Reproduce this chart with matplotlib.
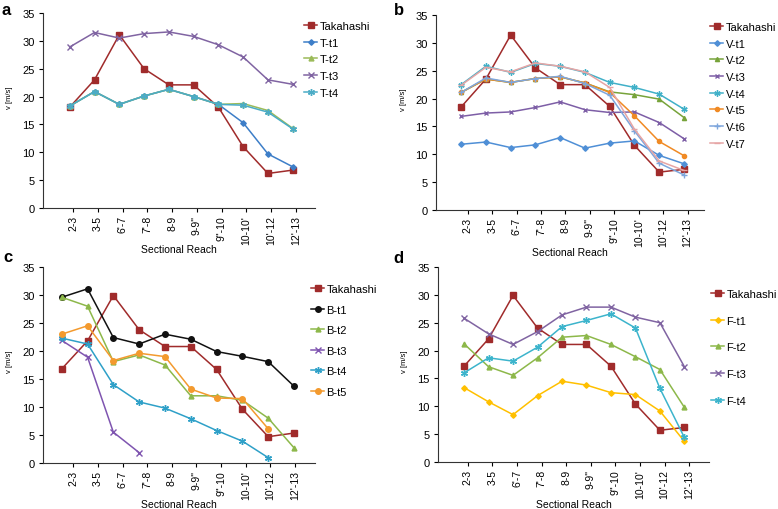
import numpy as np
import matplotlib.pyplot as plt

plt.rcParams['font.family'] = ['Liberation Sans', 'DejaVu Sans']

nan = np.nan
reaches = ['2-3', '3-5', "6'-7", "7'-8", '8-9', '9-9"', '9"-10', "10-10'", "10'-12", "12'-13"]

# panel a
tak_a = [18.1, 23.0, 31.1, 25.0, 22.1, 22.1, 18.1, 11.0, 6.2, 6.8]
t_t1 = [18.3, 20.9, 18.6, 20.1, 21.3, 20.0, 18.6, 15.3, 9.7, 7.4]
t_t2 = [18.3, 20.9, 18.6, 20.1, 21.3, 20.0, 18.6, 18.75, 17.5, 14.3]
t_t3 = [28.9, 31.5, 30.5, 31.3, 31.6, 30.8, 29.3, 27.1, 23.0, 22.2]
t_t4 = [18.3, 20.9, 18.6, 20.1, 21.3, 20.0, 18.6, 18.45, 17.2, 14.2]

# panel b
tak_b = [18.5, 23.5, 31.4, 25.5, 22.5, 22.5, 18.6, 11.6, 6.8, 7.3]
v_t1 = [11.8, 12.2, 11.2, 11.7, 13.0, 11.1, 12.0, 12.4, 9.8, 8.3]
v_t2 = [21.1, 23.5, 22.9, 23.6, 23.9, 22.8, 21.2, 20.7, 19.9, 16.6]
v_t3 = [16.8, 17.4, 17.6, 18.4, 19.4, 18.0, 17.5, 17.6, 15.7, 12.8]
v_t4 = [22.5, 25.8, 24.7, 26.3, 25.8, 24.7, 22.9, 22.0, 20.8, 18.1]
v_t5 = [21.1, 23.5, 22.9, 23.6, 23.9, 22.8, 21.1, 16.9, 12.3, 9.75]
v_t6 = [21.1, 23.7, 22.9, 23.6, 24.0, 22.7, 20.6, 14.2, 8.4, 6.3]
v_t7 = [22.4, 25.6, 24.8, 26.4, 25.8, 24.8, 22.0, 14.5, 8.8, 7.1]

# panel c
tak_c = [16.8, 21.8, 29.9, 23.8, 20.8, 20.8, 16.7, 9.6, 4.7, 5.35]
b_t1 = [29.6, 31.1, 22.4, 21.25, 23.0, 22.1, 19.9, 19.05, 18.1, 13.7]
b_t2 = [29.6, 28.0, 18.1, 19.3, 17.5, 12.0, 12.0, 11.2, 8.0, 2.7]
b_t3 = [21.9, 18.9, 5.5, 1.85, nan, nan, nan, nan, nan, nan]
b_t4 = [22.3, 21.25, 14.0, 10.9, 9.8, 7.9, 5.8, 3.9, 0.95, nan]
b_t5 = [23.0, 24.5, 18.3, 19.6, 19.0, 13.2, 11.6, 11.5, 6.1, nan]

# panel d
tak_d = [17.2, 22.1, 29.9, 24.05, 21.1, 21.1, 17.2, 10.4, 5.7, 6.2]
f_t1 = [13.35, 10.8, 8.5, 11.9, 14.5, 13.8, 12.45, 12.1, 9.15, 3.7]
f_t2 = [21.2, 17.1, 15.55, 18.7, 22.4, 22.7, 21.1, 18.9, 16.6, 9.8]
f_t3 = [25.8, 23.0, 21.1, 23.4, 26.4, 27.8, 27.8, 26.0, 25.0, 17.1]
f_t4 = [16.0, 18.7, 18.1, 20.6, 24.3, 25.4, 26.6, 24.05, 13.2, 4.4]

RED = '#a02b2b'
ast = (6, 2, 0)

W, H = 778, 510
fig = plt.figure(figsize=(W / 100, H / 100), dpi=100)


def px_axes(left, right, top, bottom):
    return fig.add_axes([left / W, 1 - bottom / H, (right - left) / W, (bottom - top) / H])


panels = [
    dict(box=(43, 315, 14, 209), xlim=(-1.22, 9.77), pts=(-0.14, 8.87), letter='a', lpos=(2, 15),
         ylab=(-0.11, 0.57), xlab_pad=0, leg=(304, 22), lsp=0.6,
         series=[('Takahashi', tak_a, RED, 's', 4.5),
                 ('T-t1', t_t1, '#3d7ec8', 'D', 2.8),
                 ('T-t2', t_t2, '#9bbb59', '^', 3.5),
                 ('T-t3', t_t3, '#8064a2', 'x', 4),
                 ('T-t4', t_t4, '#4bacc6', ast, 5)]),
    dict(box=(436, 704, 16, 211), xlim=(-1.30, 9.67), pts=(-0.27, 8.85), letter='b', lpos=(394, 15),
         ylab=(-0.11, 0.57), xlab_pad=0.5, leg=(710, 23), lsp=0.6,
         series=[('Takahashi', tak_b, RED, 's', 4.5),
                 ('V-t1', v_t1, '#4f8fd6', 'D', 2.8),
                 ('V-t2', v_t2, '#77a33a', '^', 3),
                 ('V-t3', v_t3, '#7d5ea6', 'x', 3.5),
                 ('V-t4', v_t4, '#40b0c8', ast, 4.5),
                 ('V-t5', v_t5, '#f08a24', 'o', 3),
                 ('V-t6', v_t6, '#7ea6dc', '+', 5),
                 ('V-t7', v_t7, '#e6a5a5', '_', 5)]),
    dict(box=(43, 315, 268, 464), xlim=(-1.23, 9.81), pts=(-0.47, 8.96), letter='c', lpos=(3, 262),
         ylab=(-0.11, 0.52), xlab_pad=0.3, leg=(311, 285), lsp=0.95,
         series=[('Takahashi', tak_c, RED, 's', 4.5),
                 ('B-t1', b_t1, '#111111', 'o', 4),
                 ('B-t2', b_t2, '#8db84a', '^', 3.5),
                 ('B-t3', b_t3, '#7f55b0', 'x', 4),
                 ('B-t4', b_t4, '#2ea0c8', ast, 5),
                 ('B-t5', b_t5, '#f39a2e', 'o', 4)]),
    dict(box=(438, 709, 268, 463), xlim=(-1.21, 9.80), pts=(-0.15, 8.80), letter='d', lpos=(393, 263),
         ylab=(-0.11, 0.52), xlab_pad=0.5, leg=(711, 290), lsp=1.5,
         series=[('Takahashi', tak_d, RED, 's', 4.5),
                 ('F-t1', f_t1, '#ffc000', 'D', 2.8),
                 ('F-t2', f_t2, '#8db84a', '^', 3.5),
                 ('F-t3', f_t3, '#8064a2', 'x', 4),
                 ('F-t4', f_t4, '#3cb4cc', ast, 5)]),
]

for p in panels:
    ax = px_axes(*p['box'])
    xs = np.linspace(p['pts'][0], p['pts'][1], len(reaches))
    for name, vals, col, mk, ms in p['series']:
        ax.plot(xs, vals, color=col, lw=1.1, marker=mk, ms=ms, mew=1.0,
                mec=col, mfc=col, label=name)
    ax.set_xlim(*p['xlim'])
    ax.set_ylim(0, 35)
    ax.set_yticks(range(0, 36, 5))
    ax.set_xticks(range(len(reaches)))
    ax.set_xticklabels(reaches, rotation=90, fontsize=7.5)
    ax.tick_params(axis='y', labelsize=8, length=3, width=0.8, pad=3)
    ax.tick_params(axis='x', length=3, width=0.8, pad=2)
    for s in ['top', 'right']:
        ax.spines[s].set_visible(False)
    for s in ['left', 'bottom']:
        ax.spines[s].set_color('#333333')
        ax.spines[s].set_linewidth(0.8)
    ax.set_xlabel('Sectional Reach', fontsize=7.5, labelpad=p['xlab_pad'])
    ax.set_ylabel('v [m/s]', fontsize=5.5)
    ax.yaxis.set_label_coords(*p['ylab'])
    fig.text(p['lpos'][0] / W, 1 - p['lpos'][1] / H, p['letter'], fontsize=12,
             fontweight='bold', va='baseline', ha='left')
    handles, labels = ax.get_legend_handles_labels()
    fig.legend(handles, labels, loc='upper left',
               bbox_to_anchor=(p['leg'][0] / W, 1 - p['leg'][1] / H),
               frameon=False, fontsize=8, handlelength=1.2, handletextpad=0.2,
               labelspacing=p['lsp'], borderpad=0, borderaxespad=0)

fig.savefig('out.png', dpi=100)
